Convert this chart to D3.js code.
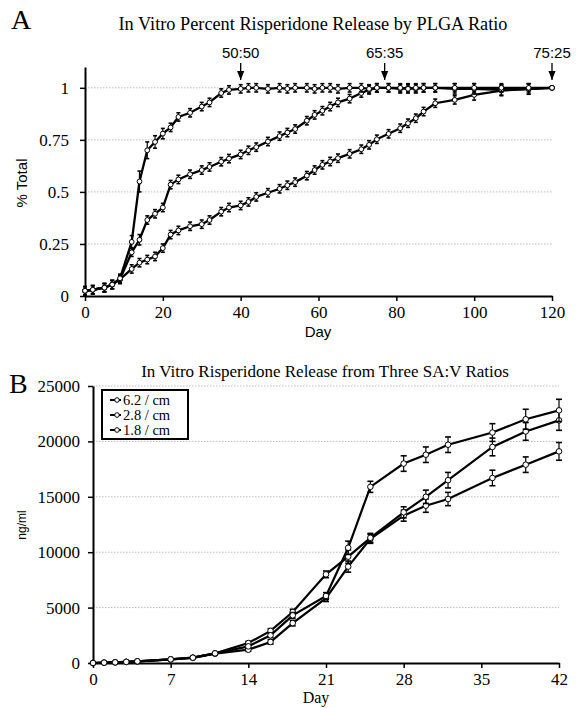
<!DOCTYPE html>
<html>
<head>
<meta charset="utf-8">
<script src="https://cdn.jsdelivr.net/npm/d3@7"></script>
<style>
body{margin:0;background:#fff;}
svg{display:block;}
.serif{font-family:"Liberation Serif","Times New Roman",serif;}
.sans{font-family:"Liberation Sans",Arial,sans-serif;}
.grid{stroke:#bdbdbd;stroke-width:1;stroke-dasharray:1.5,1.5;}
.axis path,.axis line{stroke:#000;}
.axis path{stroke-width:2;}
.axis line{stroke-width:1.5;}
.axis text{font-family:"Liberation Serif","Times New Roman",serif;font-size:17px;fill:#000;}
</style>
</head>
<body>
<div id="chart"></div>
<script>
// ---- panel A : percent released by PLGA ratio ----
var daysA = [0,2,5,7,9,12,14,16,18,20,22,24,27,30,32,35,37,40,42,44,47,50,52,54,57,59,61,63,65,68,71,73,75,78,81,83,85,87,90,95,100,107,114,120];
var rel5050 = [0.025,0.03,0.04,0.055,0.085,0.26,0.55,0.70,0.74,0.78,0.81,0.86,0.88,0.91,0.93,0.975,0.99,0.995,1.0,1.0,0.995,1.0,0.995,1.0,1.0,0.995,1.0,1.0,0.995,1.0,1.0,0.995,1.0,1.0,1.0,0.995,1.0,1.0,1.0,1.0,1.0,1.0,1.0,1.0];
var rel6535 = [0.025,0.03,0.04,0.055,0.08,0.21,0.27,0.365,0.395,0.425,0.535,0.56,0.585,0.605,0.62,0.645,0.66,0.68,0.70,0.715,0.742,0.768,0.785,0.802,0.842,0.87,0.89,0.91,0.93,0.948,0.975,0.99,1.0,1.0,0.995,1.0,0.995,1.0,1.0,0.995,0.995,0.99,0.995,1.0];
var rel7525 = [0.025,0.03,0.04,0.055,0.08,0.13,0.16,0.175,0.19,0.23,0.295,0.315,0.335,0.345,0.365,0.405,0.425,0.435,0.452,0.476,0.496,0.515,0.532,0.547,0.578,0.605,0.63,0.646,0.662,0.683,0.705,0.726,0.753,0.779,0.806,0.83,0.854,0.886,0.926,0.942,0.966,0.987,0.994,1.0];
var err5050 = [0.02,0.02,0.02,0.02,0.02,0.03,0.05,0.04,0.03,0.025,0.02,0.02,0.02,0.02,0.02,0.02,0.02,0.02,0.02,0.02,0.02,0.02,0.02,0.02,0.02,0.02,0.02,0.02,0.02,0.02,0.02,0.02,0.02,0.02,0.02,0.02,0.02,0.02,0.02,0.02,0.02,0.02,0.02,0.0];
var err6535 = [0.02,0.02,0.02,0.02,0.02,0.02,0.025,0.02,0.02,0.02,0.02,0.02,0.02,0.02,0.02,0.02,0.02,0.02,0.02,0.02,0.02,0.02,0.02,0.02,0.02,0.02,0.02,0.02,0.02,0.02,0.02,0.02,0.02,0.02,0.02,0.02,0.02,0.02,0.02,0.025,0.025,0.025,0.025,0.0];
var err7525 = [0.02,0.02,0.02,0.02,0.02,0.02,0.02,0.02,0.02,0.02,0.02,0.02,0.02,0.02,0.02,0.02,0.02,0.02,0.02,0.02,0.02,0.02,0.02,0.02,0.02,0.02,0.02,0.02,0.02,0.02,0.02,0.02,0.02,0.02,0.02,0.02,0.02,0.02,0.02,0.02,0.025,0.025,0.025,0.0];
var ratioLabels = ["50:50","65:35","75:25"];
var ratioDoneDay = [40,77,120];
var yTicksA = [0,0.25,0.5,0.75,1];
var yTickLabelsA = ["0","0.25","0.5","0.75","1"];
var xTicksA = [0,20,40,60,80,100,120];

// ---- panel B : release from three SA:V ratios ----
var daysB = [0,1,2,3,4,7,9,11,14,16,18,21,23,25,28,30,32,36,39,42];
var rel62 = [0,30,60,100,150,330,480,870,1500,2500,4300,6050,10400,15900,18000,18800,19700,20800,22000,22800];
var rel28 = [0,30,60,100,150,330,480,870,1800,2900,4600,8000,9600,11300,13600,15000,16500,19500,20900,21900];
var rel18 = [0,30,60,100,140,320,460,840,1200,1900,3600,5850,8700,11200,13300,14200,14800,16700,17900,19100];
var err62 = [0,0,0,0,0,0,0,50,150,200,250,300,600,500,700,700,700,800,900,1000];
var err28 = [0,0,0,0,0,0,0,50,150,200,250,300,600,400,500,600,700,800,800,900];
var err18 = [0,0,0,0,0,0,0,50,150,200,250,300,500,400,500,600,600,700,700,800];
var legendLabels = ["6.2 / cm","2.8 / cm","1.8 / cm"];
var yTicksB = [0,5000,10000,15000,20000,25000];
var xTicksB = [0,7,14,21,28,35,42];

var svg = d3.select("#chart").append("svg")
	.attr("width",577)
	.attr("height",708);

var xA = d3.scaleLinear().domain([0,120]).range([85,552]);
var yA = d3.scaleLinear().domain([0,1.1]).range([296,67]);
var xB = d3.scaleLinear().domain([0,42]).range([93,559]);
var yB = d3.scaleLinear().domain([0,25000]).range([663,386]);

function series(days, vals, errs){
	return days.map(function(d,i){ return {x:d, y:vals[i], e:errs[i]}; });
}

function drawSeries(g, data, x, y, cap, r, lw){
	var line = d3.line().x(function(d){return x(d.x);}).y(function(d){return y(d.y);});
	g.append("path")
		.datum(data)
		.attr("d",line)
		.attr("fill","none")
		.attr("stroke","#000")
		.attr("stroke-width",lw);
	var eb = g.selectAll(null).data(data.filter(function(d){return d.e>0;})).enter().append("g");
	eb.append("line")
		.attr("x1",function(d){return x(d.x);})
		.attr("x2",function(d){return x(d.x);})
		.attr("y1",function(d){return y(d.y-d.e);})
		.attr("y2",function(d){return y(d.y+d.e);})
		.attr("stroke","#000").attr("stroke-width",1.2);
	eb.append("line")
		.attr("x1",function(d){return x(d.x)-cap;})
		.attr("x2",function(d){return x(d.x)+cap;})
		.attr("y1",function(d){return y(d.y+d.e);})
		.attr("y2",function(d){return y(d.y+d.e);})
		.attr("stroke","#000").attr("stroke-width",1.6);
	eb.append("line")
		.attr("x1",function(d){return x(d.x)-cap;})
		.attr("x2",function(d){return x(d.x)+cap;})
		.attr("y1",function(d){return y(d.y-d.e);})
		.attr("y2",function(d){return y(d.y-d.e);})
		.attr("stroke","#000").attr("stroke-width",1.6);
	g.selectAll(null).data(data).enter().append("circle")
		.attr("cx",function(d){return x(d.x);})
		.attr("cy",function(d){return y(d.y);})
		.attr("r",r)
		.attr("fill","#fff")
		.attr("stroke","#000")
		.attr("stroke-width",1);
}

// ================= Panel A =================
var gA = svg.append("g");

gA.selectAll(".grid").data(yTicksA.slice(1)).enter().append("line")
	.attr("class","grid")
	.attr("x1",xA(0)).attr("x2",xA(120))
	.attr("y1",function(d){return yA(d);})
	.attr("y2",function(d){return yA(d);});

gA.append("g")
	.attr("class","axis")
	.attr("transform","translate("+xA(0)+",0)")
	.call(d3.axisLeft(yA).tickValues(yTicksA).tickSize(5).tickSizeOuter(0).tickPadding(11)
		.tickFormat(function(d,i){return yTickLabelsA[i];}));
gA.append("g")
	.attr("class","axis")
	.attr("transform","translate(0,"+yA(0)+")")
	.call(d3.axisBottom(xA).tickValues(xTicksA).tickSize(5).tickSizeOuter(0).tickPadding(5));

drawSeries(gA, series(daysA,rel7525,err7525), xA, yA, 2, 2.4, 2.3);
drawSeries(gA, series(daysA,rel6535,err6535), xA, yA, 2, 2.4, 2.3);
drawSeries(gA, series(daysA,rel5050,err5050), xA, yA, 2, 2.4, 2.3);

// arrows marking where each ratio reaches 100%
svg.append("defs").append("marker")
	.attr("id","arrowhead")
	.attr("viewBox","0 0 10 10")
	.attr("refX",10).attr("refY",5)
	.attr("markerWidth",7).attr("markerHeight",7)
	.attr("orient","auto")
	.append("path").attr("d","M0,1 L10,5 L0,9 Z").attr("fill","#000");

ratioDoneDay.forEach(function(d,i){
	gA.append("line")
		.attr("x1",xA(d)).attr("x2",xA(d))
		.attr("y1",63).attr("y2",80)
		.attr("stroke","#000").attr("stroke-width",1.3)
		.attr("marker-end","url(#arrowhead)");
	gA.append("text")
		.attr("class","sans")
		.attr("x",xA(d)).attr("y",58)
		.attr("text-anchor","middle")
		.style("font-size","15px")
		.text(ratioLabels[i]);
});

svg.append("text").attr("class","serif")
	.attr("x",11).attr("y",29)
	.style("font-size","28px")
	.text("A");
svg.append("text").attr("class","serif")
	.attr("x",313).attr("y",30)
	.attr("text-anchor","middle")
	.style("font-size","18.3px")
	.text("In Vitro Percent Risperidone Release by PLGA Ratio");
svg.append("text").attr("class","sans")
	.attr("transform","translate(27,183) rotate(-90)")
	.attr("text-anchor","middle")
	.style("font-size","15px")
	.text("% Total");
svg.append("text").attr("class","sans")
	.attr("x",318).attr("y",337)
	.attr("text-anchor","middle")
	.style("font-size","15px")
	.text("Day");

// ================= Panel B =================
var gB = svg.append("g");

gB.selectAll(".grid").data(yTicksB.slice(1)).enter().append("line")
	.attr("class","grid")
	.attr("x1",xB(0)).attr("x2",xB(42))
	.attr("y1",function(d){return yB(d);})
	.attr("y2",function(d){return yB(d);});

gB.append("g")
	.attr("class","axis")
	.attr("transform","translate("+xB(0)+",0)")
	.call(d3.axisLeft(yB).tickValues(yTicksB).tickSize(5).tickSizeOuter(0).tickPadding(8)
		.tickFormat(d3.format("d")));
gB.append("g")
	.attr("class","axis")
	.attr("transform","translate(0,"+yB(0)+")")
	.call(d3.axisBottom(xB).tickValues(xTicksB).tickSize(5).tickSizeOuter(0).tickPadding(5));

drawSeries(gB, series(daysB,rel18,err18), xB, yB, 3, 2.8, 2.2);
drawSeries(gB, series(daysB,rel28,err28), xB, yB, 3, 2.8, 2.2);
drawSeries(gB, series(daysB,rel62,err62), xB, yB, 3, 2.8, 2.2);

// legend
var lg = gB.append("g").attr("transform","translate(102,390)");
lg.append("rect")
	.attr("width",86).attr("height",49)
	.attr("fill","#fff").attr("stroke","#000").attr("stroke-width",2);
legendLabels.forEach(function(t,i){
	var yy = 10 + i*15;
	lg.append("line")
		.attr("x1",8).attr("x2",19).attr("y1",yy).attr("y2",yy)
		.attr("stroke","#000").attr("stroke-width",2);
	lg.append("circle")
		.attr("cx",15).attr("cy",yy).attr("r",2.3)
		.attr("fill","#fff").attr("stroke","#000");
	lg.append("text").attr("class","serif")
		.attr("x",21).attr("y",yy+4.5)
		.style("font-size","14.5px")
		.text(t);
});

svg.append("text").attr("class","serif")
	.attr("x",9).attr("y",393)
	.style("font-size","28px")
	.text("B");
svg.append("text").attr("class","serif")
	.attr("x",325).attr("y",377)
	.attr("text-anchor","middle")
	.style("font-size","17px")
	.text("In Vitro Risperidone Release from Three SA:V Ratios");
svg.append("text").attr("class","sans")
	.attr("transform","translate(26,525) rotate(-90)")
	.attr("text-anchor","middle")
	.style("font-size","12px")
	.text("ng/ml");
svg.append("text").attr("class","serif")
	.attr("x",316).attr("y",703)
	.attr("text-anchor","middle")
	.style("font-size","16px")
	.text("Day");
</script>
</body>
</html>
